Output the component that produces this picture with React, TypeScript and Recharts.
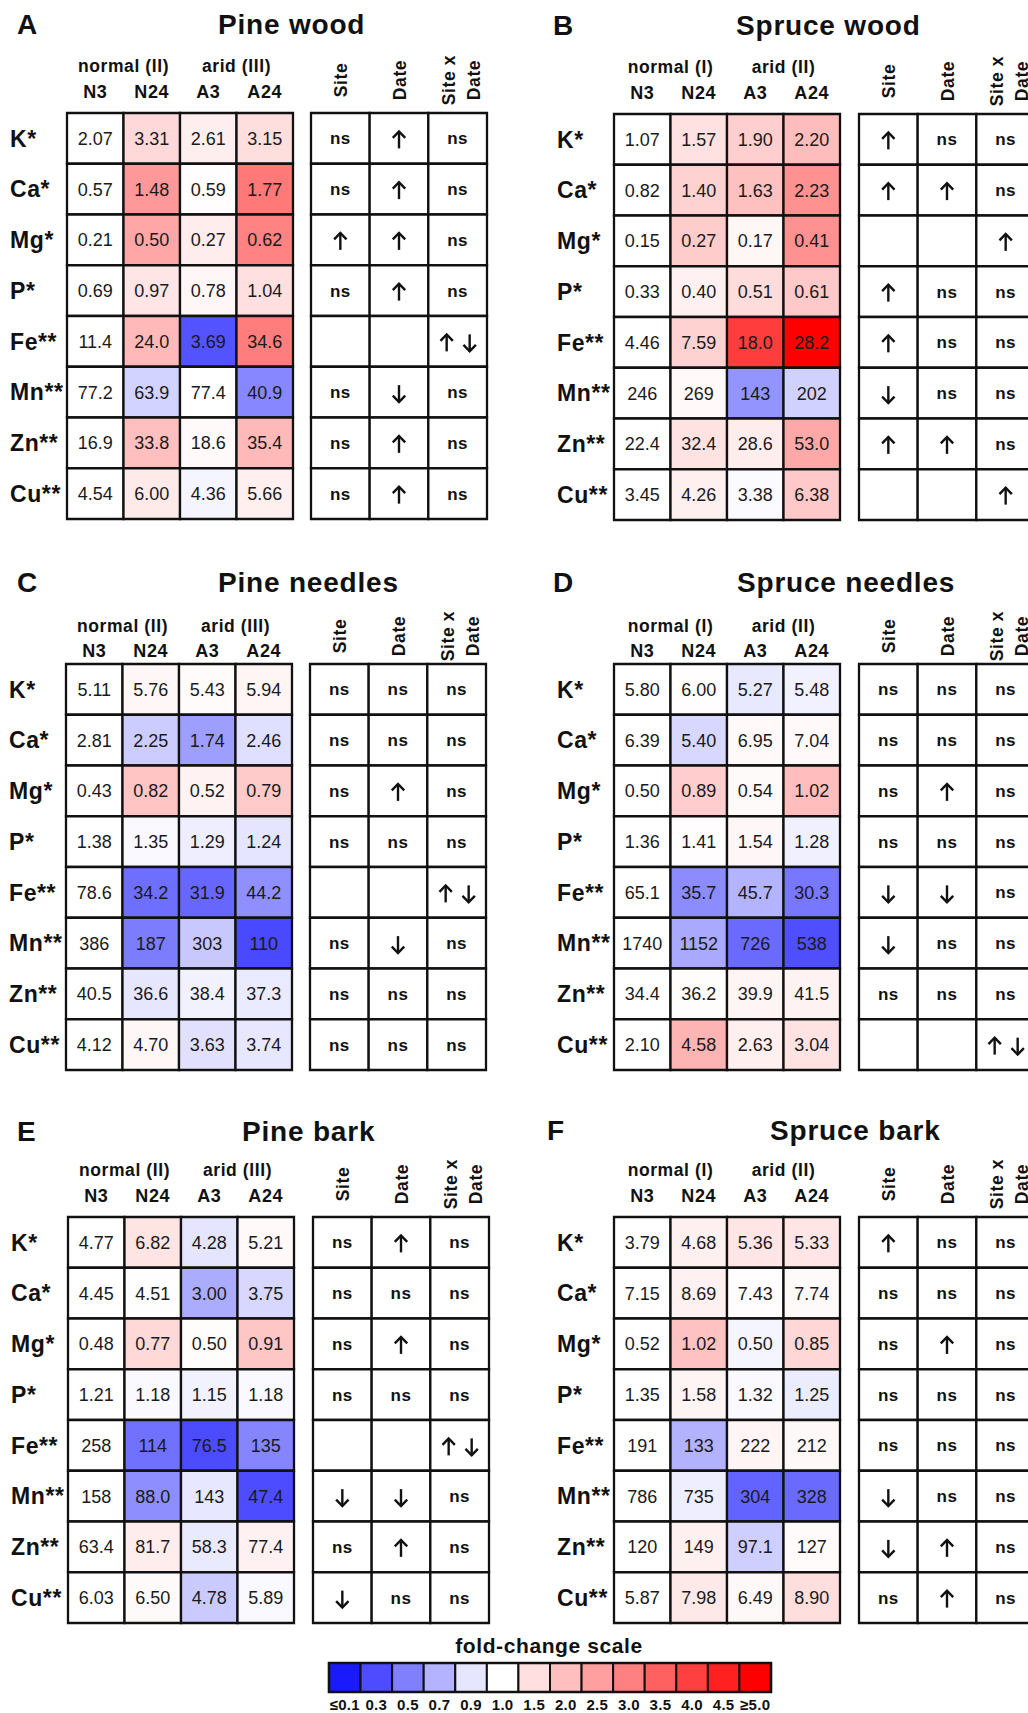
import React from 'react'
import { ScatterChart, Scatter, XAxis, YAxis, ReferenceArea } from 'recharts'

const FONT = "'Liberation Sans', Arial, Helvetica, sans-serif"

const ELEMENTS = ['K*', 'Ca*', 'Mg*', 'P*', 'Fe**', 'Mn**', 'Zn**', 'Cu**']
const SAMPLES = ['N3', 'N24', 'A3', 'A24']
const EFFECTS = ['Site', 'Date', 'Site x Date']

// concentrations per element row: N3, N24, A3, A24
const PINE_WOOD = [
  [2.07, 3.31, 2.61, 3.15],
  [0.57, 1.48, 0.59, 1.77],
  [0.21, 0.5, 0.27, 0.62],
  [0.69, 0.97, 0.78, 1.04],
  [11.4, 24.0, 3.69, 34.6],
  [77.2, 63.9, 77.4, 40.9],
  [16.9, 33.8, 18.6, 35.4],
  [4.54, 6.0, 4.36, 5.66],
]
const SPRUCE_WOOD = [
  [1.07, 1.57, 1.9, 2.2],
  [0.82, 1.4, 1.63, 2.23],
  [0.15, 0.27, 0.17, 0.41],
  [0.33, 0.4, 0.51, 0.61],
  [4.46, 7.59, 18.0, 28.2],
  [246, 269, 143, 202],
  [22.4, 32.4, 28.6, 53.0],
  [3.45, 4.26, 3.38, 6.38],
]
const PINE_NEEDLES = [
  [5.11, 5.76, 5.43, 5.94],
  [2.81, 2.25, 1.74, 2.46],
  [0.43, 0.82, 0.52, 0.79],
  [1.38, 1.35, 1.29, 1.24],
  [78.6, 34.2, 31.9, 44.2],
  [386, 187, 303, 110],
  [40.5, 36.6, 38.4, 37.3],
  [4.12, 4.7, 3.63, 3.74],
]
const SPRUCE_NEEDLES = [
  [5.8, 6.0, 5.27, 5.48],
  [6.39, 5.4, 6.95, 7.04],
  [0.5, 0.89, 0.54, 1.02],
  [1.36, 1.41, 1.54, 1.28],
  [65.1, 35.7, 45.7, 30.3],
  [1740, 1152, 726, 538],
  [34.4, 36.2, 39.9, 41.5],
  [2.1, 4.58, 2.63, 3.04],
]
const PINE_BARK = [
  [4.77, 6.82, 4.28, 5.21],
  [4.45, 4.51, 3.0, 3.75],
  [0.48, 0.77, 0.5, 0.91],
  [1.21, 1.18, 1.15, 1.18],
  [258, 114, 76.5, 135],
  [158, 88.0, 143, 47.4],
  [63.4, 81.7, 58.3, 77.4],
  [6.03, 6.5, 4.78, 5.89],
]
const SPRUCE_BARK = [
  [3.79, 4.68, 5.36, 5.33],
  [7.15, 8.69, 7.43, 7.74],
  [0.52, 1.02, 0.5, 0.85],
  [1.35, 1.58, 1.32, 1.25],
  [191, 133, 222, 212],
  [786, 735, 304, 328],
  [120, 149, 97.1, 127],
  [5.87, 7.98, 6.49, 8.9],
]

// significance: Site, Date, Site x Date  (u = up, d = down, ud = both)
const PINE_WOOD_SIG = [
  ['ns', 'u', 'ns'], ['ns', 'u', 'ns'], ['u', 'u', 'ns'], ['ns', 'u', 'ns'],
  ['', '', 'ud'], ['ns', 'd', 'ns'], ['ns', 'u', 'ns'], ['ns', 'u', 'ns'],
]
const SPRUCE_WOOD_SIG = [
  ['u', 'ns', 'ns'], ['u', 'u', 'ns'], ['', '', 'u'], ['u', 'ns', 'ns'],
  ['u', 'ns', 'ns'], ['d', 'ns', 'ns'], ['u', 'u', 'ns'], ['', '', 'u'],
]
const PINE_NEEDLES_SIG = [
  ['ns', 'ns', 'ns'], ['ns', 'ns', 'ns'], ['ns', 'u', 'ns'], ['ns', 'ns', 'ns'],
  ['', '', 'ud'], ['ns', 'd', 'ns'], ['ns', 'ns', 'ns'], ['ns', 'ns', 'ns'],
]
const SPRUCE_NEEDLES_SIG = [
  ['ns', 'ns', 'ns'], ['ns', 'ns', 'ns'], ['ns', 'u', 'ns'], ['ns', 'ns', 'ns'],
  ['d', 'd', 'ns'], ['d', 'ns', 'ns'], ['ns', 'ns', 'ns'], ['', '', 'ud'],
]
const PINE_BARK_SIG = [
  ['ns', 'u', 'ns'], ['ns', 'ns', 'ns'], ['ns', 'u', 'ns'], ['ns', 'ns', 'ns'],
  ['', '', 'ud'], ['d', 'd', 'ns'], ['ns', 'u', 'ns'], ['d', 'ns', 'ns'],
]
const SPRUCE_BARK_SIG = [
  ['u', 'ns', 'ns'], ['ns', 'ns', 'ns'], ['ns', 'u', 'ns'], ['ns', 'ns', 'ns'],
  ['ns', 'ns', 'ns'], ['d', 'ns', 'ns'], ['d', 'u', 'ns'], ['ns', 'u', 'ns'],
]

const LEGEND_STEPS = [0.1, 0.3, 0.5, 0.7, 0.9, 1.0, 1.5, 2.0, 2.5, 3.0, 3.5, 4.0, 4.5, 5.0]
const LEGEND_LABELS = ['≤0.1', '0.3', '0.5', '0.7', '0.9', '1.0', '1.5', '2.0', '2.5', '3.0', '3.5', '4.0', '4.5', '≥5.0']

const PANELS = [
  { letter: 'A', title: 'Pine wood', sites: ['normal  (II)', 'arid (III)'], values: PINE_WOOD, sig: PINE_WOOD_SIG },
  { letter: 'B', title: 'Spruce wood', sites: ['normal  (I)', 'arid (II)'], values: SPRUCE_WOOD, sig: SPRUCE_WOOD_SIG },
  { letter: 'C', title: 'Pine needles', sites: ['normal  (II)', 'arid (III)'], values: PINE_NEEDLES, sig: PINE_NEEDLES_SIG },
  { letter: 'D', title: 'Spruce needles', sites: ['normal  (I)', 'arid (II)'], values: SPRUCE_NEEDLES, sig: SPRUCE_NEEDLES_SIG },
  { letter: 'E', title: 'Pine bark', sites: ['normal  (II)', 'arid (III)'], values: PINE_BARK, sig: PINE_BARK_SIG },
  { letter: 'F', title: 'Spruce bark', sites: ['normal  (I)', 'arid (II)'], values: SPRUCE_BARK, sig: SPRUCE_BARK_SIG },
]

// where each panel sits on the page
const LAYOUT = [
  { tableX: 67, sigX: 311, top: 113, letterX: 17, titleX: 218, titleY: 34, tight: false },
  { tableX: 614, sigX: 859, top: 114, letterX: 553, titleX: 736, titleY: 35, tight: false },
  { tableX: 66, sigX: 310, top: 664, letterX: 17, titleX: 218, titleY: 592, tight: true },
  { tableX: 614, sigX: 859, top: 664, letterX: 553, titleX: 737, titleY: 592, tight: true },
  { tableX: 68, sigX: 313, top: 1217, letterX: 17, titleX: 242, titleY: 1141, tight: false },
  { tableX: 614, sigX: 859, top: 1217, letterX: 547, titleX: 770, titleY: 1140, tight: false },
]

const TABLE_W = 226
const SIG_W = 176
const TABLE_H = 406
const LABEL_W = 60
const HEAD_H = 72
const SIG_HEAD_H = 80
const PAD = 3
const LINE = 2.3
const LOOSE = { col: 15, grp: 41, rot: 33 }
const TIGHT = { col: 7, grp: 32, rot: 28 }

const HEAD_TICKS = [0.5, 1, 1.5, 2.5, 3, 3.5]
const ROW_TICKS = [0.5, 1.5, 2.5, 3.5, 4.5, 5.5, 6.5, 7.5]

function foldColor(f: number) {
  if (f >= 1) {
    const t = Math.min((f - 1) / 4, 1)
    const g = Math.round(255 * (1 - t))
    return `rgb(255,${g},${g})`
  }
  const v = Math.round(255 * Math.max(f, 0.1))
  return `rgb(${v},${v},255)`
}

function fmt(v: number) {
  if (v < 10) return v.toFixed(2)
  if (v < 100) return v.toFixed(1)
  return v.toFixed(0)
}

function Arrow({ x, y, up }: { x: number; y: number; up: boolean }) {
  const h = 8.5
  const w = 6.2
  const tip = up ? y - h : y + h
  const tail = up ? y + h : y - h
  const headY = up ? tip + 6.5 : tip - 6.5
  return (
    <g stroke="#111" strokeWidth={2.4} fill="none">
      <line x1={x} y1={tail} x2={x} y2={tip} />
      <polyline points={`${x - w},${headY} ${x},${tip} ${x + w},${headY}`} strokeLinejoin="miter" />
    </g>
  )
}

function HeatTable({ panel, lay }: any) {
  const gap = lay.tight ? TIGHT : LOOSE
  const cells = panel.values.flatMap((row: number[], r: number) =>
    row.map((v, c) => ({ x: c + 0.5, y: r + 0.5, col: c, row: r, v, fold: v / row[0] })),
  )
  const headTick = (p: any) => {
    const v = p.payload.value
    if (Number.isInteger(v)) {
      return (
        <text x={p.x} y={p.y - gap.grp} textAnchor="middle" fontFamily={FONT} fontWeight="bold" fontSize={17.5} letterSpacing={0.6} fill="#111">
          {panel.sites[(v - 1) / 2]}
        </text>
      )
    }
    return (
      <text x={p.x} y={p.y - gap.col} textAnchor="middle" fontFamily={FONT} fontWeight="bold" fontSize={18} letterSpacing={0.6} fill="#111">
        {SAMPLES[Math.floor(v)]}
      </text>
    )
  }
  const rowTick = (p: any) => (
    <text x={p.x - 57} y={p.y} dy="0.36em" textAnchor="start" fontFamily={FONT} fontWeight="bold" fontSize={23} letterSpacing={0.6} fill="#111">
      {ELEMENTS[Math.floor(p.payload.value)]}
    </text>
  )
  return (
    <div style={{ position: 'absolute', left: lay.tableX - LABEL_W, top: lay.top - HEAD_H }}>
      <ScatterChart
        width={LABEL_W + TABLE_W + PAD}
        height={HEAD_H + TABLE_H + PAD}
        margin={{ top: 0, right: PAD, bottom: PAD, left: 0 }}
      >
        <XAxis
          xAxisId="c"
          type="number"
          dataKey="x"
          domain={[0, 4]}
          ticks={HEAD_TICKS}
          interval={0}
          orientation="top"
          height={HEAD_H}
          axisLine={false}
          tickLine={false}
          tickSize={0}
          tickMargin={0}
          tick={headTick}
        />
        <YAxis
          yAxisId="r"
          type="number"
          dataKey="y"
          domain={[0, 8]}
          reversed
          ticks={ROW_TICKS}
          interval={0}
          width={LABEL_W}
          axisLine={false}
          tickLine={false}
          tickSize={0}
          tickMargin={0}
          tick={rowTick}
        />
        {cells.map((d: any) => (
          <ReferenceArea
            key={`${d.row}-${d.col}`}
            xAxisId="c"
            yAxisId="r"
            x1={d.col}
            x2={d.col + 1}
            y1={d.row}
            y2={d.row + 1}
            fill={foldColor(d.fold)}
            fillOpacity={1}
            stroke="#111"
            strokeWidth={LINE}
          />
        ))}
        <Scatter
          xAxisId="c"
          yAxisId="r"
          data={cells}
          isAnimationActive={false}
          shape={(p: any) => (
            <text x={p.cx} y={p.cy} dy="0.36em" textAnchor="middle" fontFamily={FONT} fontSize={18} fill="#1a1a1a">
              {fmt(p.payload.v)}
            </text>
          )}
        />
      </ScatterChart>
    </div>
  )
}

function SigTable({ panel, lay }: any) {
  const gap = lay.tight ? TIGHT : LOOSE
  const cells = panel.sig.flatMap((row: string[], r: number) =>
    row.map((s, c) => ({ x: c + 0.5, y: r + 0.5, col: c, row: r, s })),
  )
  const rotText = (x: number, y: number, label: string) => (
    <text
      key={label}
      x={x}
      y={y}
      transform={`rotate(-90, ${x}, ${y})`}
      textAnchor="middle"
      fontFamily={FONT}
      fontWeight="bold"
      fontSize={17.5}
      letterSpacing={0.6}
      fill="#111"
    >
      {label}
    </text>
  )
  const effectTick = (p: any) => {
    const label = EFFECTS[Math.floor(p.payload.value)]
    const cy = p.y - gap.rot
    if (label === 'Site x Date') {
      return <g>{[rotText(p.x - 3, cy, 'Site x'), rotText(p.x + 22, cy, 'Date')]}</g>
    }
    return rotText(p.x + 6.5, cy, label)
  }
  return (
    <div style={{ position: 'absolute', left: lay.sigX - PAD, top: lay.top - SIG_HEAD_H }}>
      <ScatterChart
        width={PAD + SIG_W + PAD}
        height={SIG_HEAD_H + TABLE_H + PAD}
        margin={{ top: 0, right: PAD, bottom: PAD, left: PAD }}
      >
        <XAxis
          xAxisId="c"
          type="number"
          dataKey="x"
          domain={[0, 3]}
          ticks={[0.5, 1.5, 2.5]}
          interval={0}
          orientation="top"
          height={SIG_HEAD_H}
          axisLine={false}
          tickLine={false}
          tickSize={0}
          tickMargin={0}
          tick={effectTick}
        />
        <YAxis yAxisId="r" type="number" dataKey="y" domain={[0, 8]} reversed hide />
        {cells.map((d: any) => (
          <ReferenceArea
            key={`${d.row}-${d.col}`}
            xAxisId="c"
            yAxisId="r"
            x1={d.col}
            x2={d.col + 1}
            y1={d.row}
            y2={d.row + 1}
            fill="#fff"
            fillOpacity={1}
            stroke="#111"
            strokeWidth={LINE}
          />
        ))}
        <Scatter
          xAxisId="c"
          yAxisId="r"
          data={cells}
          isAnimationActive={false}
          shape={(p: any) => {
            const s = p.payload.s
            if (s === 'ns') {
              return (
                <text x={p.cx} y={p.cy} dy="0.36em" textAnchor="middle" fontFamily={FONT} fontWeight="bold" fontSize={17} letterSpacing={0.5} fill="#111">
                  ns
                </text>
              )
            }
            if (s === 'u') return <Arrow x={p.cx} y={p.cy + 1.5} up />
            if (s === 'd') return <Arrow x={p.cx} y={p.cy + 1.5} up={false} />
            if (s === 'ud') {
              return (
                <g>
                  <Arrow x={p.cx - 11} y={p.cy + 1.5} up />
                  <Arrow x={p.cx + 12} y={p.cy + 1.5} up={false} />
                </g>
              )
            }
            return <g />
          }}
        />
      </ScatterChart>
    </div>
  )
}

function ScaleLegend() {
  const steps = LEGEND_STEPS.map((f, i) => ({ x: i + 0.5, y: 0.5, i, f }))
  const legendTick = (p: any) => (
    <text x={p.x} y={p.y + 18} textAnchor="middle" fontFamily={FONT} fontWeight="bold" fontSize={15} letterSpacing={0.3} fill="#111">
      {LEGEND_LABELS[Math.floor(p.payload.value)]}
    </text>
  )
  return (
    <div style={{ position: 'absolute', left: 329 - PAD, top: 1663 - PAD }}>
      <ScatterChart width={PAD + 442 + PAD} height={PAD + 29 + 24} margin={{ top: PAD, right: PAD, bottom: 0, left: PAD }}>
        <XAxis
          xAxisId="c"
          type="number"
          dataKey="x"
          domain={[0, 14]}
          ticks={steps.map((s) => s.x)}
          interval={0}
          height={24}
          axisLine={false}
          tickLine={false}
          tickSize={0}
          tickMargin={0}
          tick={legendTick}
        />
        <YAxis yAxisId="r" type="number" dataKey="y" domain={[0, 1]} hide />
        {steps.map((s) => (
          <ReferenceArea
            key={s.i}
            xAxisId="c"
            yAxisId="r"
            x1={s.i}
            x2={s.i + 1}
            y1={0}
            y2={1}
            fill={foldColor(s.f)}
            fillOpacity={1}
            stroke="#111"
            strokeWidth={2}
          />
        ))}
        <ReferenceArea xAxisId="c" yAxisId="r" x1={0} x2={14} y1={0} y2={1} fill="none" stroke="#111" strokeWidth={2.6} />
        <Scatter xAxisId="c" yAxisId="r" data={steps} isAnimationActive={false} shape={() => <g />} />
      </ScatterChart>
    </div>
  )
}

export default function App() {
  return (
    <div
      style={{
        position: 'absolute',
        left: 0,
        top: 0,
        width: 1028,
        height: 1713,
        overflow: 'hidden',
        background: '#fff',
        fontFamily: FONT,
      }}
    >
      {PANELS.map((panel, i) => (
        <React.Fragment key={panel.letter}>
          <HeatTable panel={panel} lay={LAYOUT[i]} />
          <SigTable panel={panel} lay={LAYOUT[i]} />
        </React.Fragment>
      ))}
      <ScaleLegend />
      <svg width={1028} height={1713} style={{ position: 'absolute', left: 0, top: 0, pointerEvents: 'none' }}>
        {PANELS.map((panel, i) => (
          <g key={panel.letter}>
            <text x={LAYOUT[i].letterX} y={LAYOUT[i].titleY} fontFamily={FONT} fontWeight="bold" fontSize={28} fill="#111">
              {panel.letter}
            </text>
            <text x={LAYOUT[i].titleX} y={LAYOUT[i].titleY} fontFamily={FONT} fontWeight="bold" fontSize={28} letterSpacing={0.8} fill="#111">
              {panel.title}
            </text>
          </g>
        ))}
        <text x={549} y={1653} textAnchor="middle" fontFamily={FONT} fontWeight="bold" fontSize={21} letterSpacing={0.6} fill="#111">
          fold-change scale
        </text>
      </svg>
    </div>
  )
}
